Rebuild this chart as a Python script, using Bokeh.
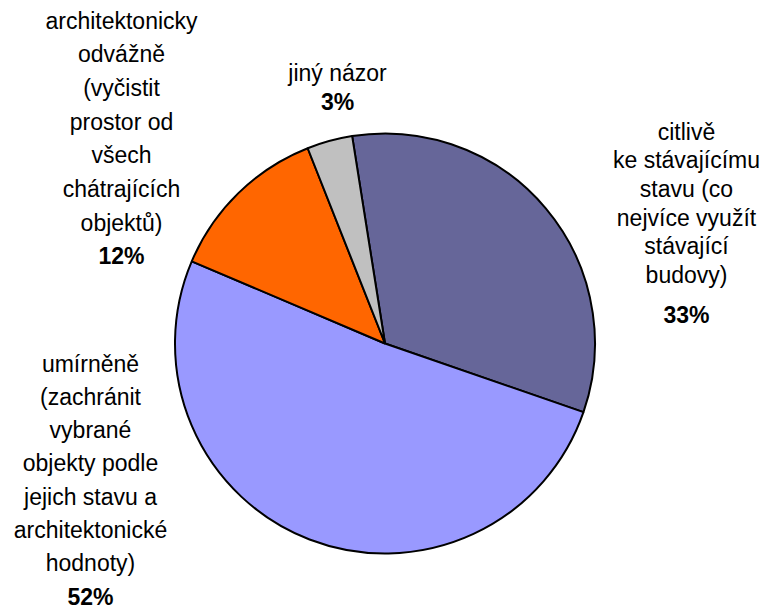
import numpy as np
from bokeh.plotting import figure
from bokeh.models import Range1d, ColumnDataSource
from bokeh.core.properties import value
from bokeh.embed import file_html
from bokeh.resources import INLINE

# ---- data ----
categories = [
    "citlivě\nke stávajícímu\nstavu (co\nnejvíce využít\nstávající\nbudovy)",
    "umírněně\n(zachránit\nvybrané\nobjekty podle\njejich stavu a\narchitektonické\nhodnoty)",
    "architektonicky\nodvážně\n(vyčistit\nprostor od\nvšech\nchátrajících\nobjektů)",
    "jiný názor",
]
shares = [32.8, 51.1, 12.6, 3.5]
pct_labels = ["33%", "52%", "12%", "3%"]
colors = ["#666699", "#9999FF", "#FF6600", "#C0C0C0"]

# ---- layout (pixel coordinates from top-left of figure) ----
W, H = 765, 611


def px(x):
    return x


def py(y):
    return H - y


pie_cx, pie_cy, pie_r = 384.5, 343.0, 210.0
first_slice_deg = 99.0  # math angle where the first slice starts (drawn clockwise)

# label anchors: centre x, first baseline y, line gap, gap before percentage
label_pos = [
    (686, 131, 28.7, 39.5),
    (90, 363, 33.3, 33.3),
    (121, 20, 33.7, 33.7),
    (337, 72, 29.0, 29.0),
]

p = figure(width=W, height=H, x_range=Range1d(0, W), y_range=Range1d(0, H),
           x_axis_type=None, y_axis_type=None, output_backend="svg",
           toolbar_location=None, min_border=0)
p.grid.visible = False
p.outline_line_color = None
p.background_fill_color = "white"
p.border_fill_color = "white"

tot = float(sum(shares))
starts, ends = [], []
cum = 0.0
for s in shares:
    a0 = first_slice_deg - cum / tot * 360.0
    a1 = a0 - s / tot * 360.0
    starts.append(np.deg2rad(a0))
    ends.append(np.deg2rad(a1))
    cum += s

src = ColumnDataSource(dict(start=starts, end=ends, color=colors))
p.wedge(x=px(pie_cx), y=py(pie_cy), radius=pie_r, start_angle="start",
        end_angle="end", direction="clock", fill_color="color",
        line_color="black", line_width=2, source=src)

nx, ny, nt = [], [], []
bx, by, bt = [], [], []
for cat, pct, (cx, y0, gap, pgap) in zip(categories, pct_labels, label_pos):
    lines = cat.split("\n")
    for i, ln in enumerate(lines):
        nx.append(px(cx)); ny.append(py(y0 + i * gap)); nt.append(ln)
    bx.append(px(cx)); by.append(py(y0 + (len(lines) - 1) * gap + pgap)); bt.append(pct)

FONT = value("Liberation Sans")
p.text(x=nx, y=ny, text=nt, text_align="center", text_baseline="alphabetic",
       text_font=FONT, text_font_size="23px", text_color="black")
p.text(x=bx, y=by, text=bt, text_align="center", text_baseline="alphabetic",
       text_font=FONT, text_font_size="23px",
       text_font_style="bold", text_color="black")

open("out.html", "w").write(file_html(p, INLINE))
